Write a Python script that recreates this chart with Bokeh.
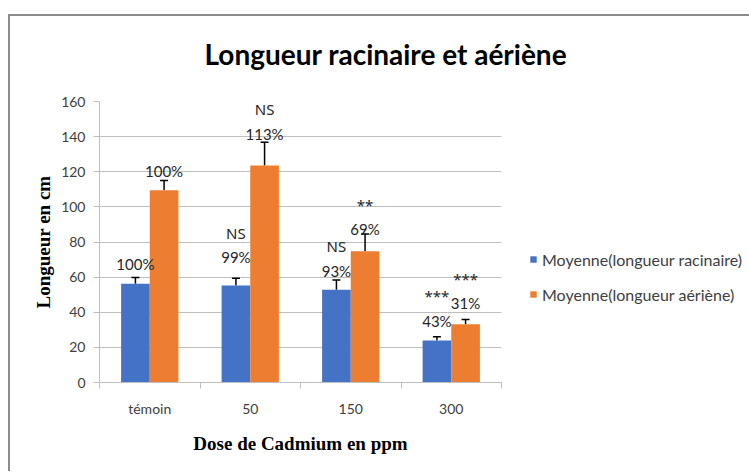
from bokeh.plotting import figure
from bokeh.models import (ColumnDataSource, Range1d, FixedTicker, Whisker, TeeHead,
                          Legend, LegendItem, Title, LinearAxis)
from bokeh.core.properties import value
from bokeh.embed import file_html
from bokeh.resources import INLINE
import numpy as np

# ---- data ----
categories = ["témoin", "50", "150", "300"]
racinaire = [56.2, 55.2, 52.8, 23.9]
racinaire_err = [3.6, 4.2, 5.5, 2.1]
aerienne = [109.5, 123.6, 74.8, 33.2]
aerienne_err = [5.5, 13.2, 9.7, 2.7]
pct_racinaire = ["100%", "99%", "93%", "43%"]
pct_aerienne = ["100%", "113%", "69%", "31%"]
sig_racinaire = ["", "NS", "NS", "***"]
sig_aerienne = ["", "NS", "**", "***"]
legend_labels = ["Moyenne(longueur racinaire)", "Moyenne(longueur aériène)"]
y_ticks = [0, 20, 40, 60, 80, 100, 120, 140, 160]

# annotation anchors (data units)
pct_racinaire_y = [67.4, 71.4, 63.4, 34.9]
sig_racinaire_y = [0, 85.1, 77.7, 49.5]
pct_aerienne_y = [120.6, 141.7, 87.4, 45.1]
sig_aerienne_y = [0, 156.0, 101.0, 59.2]

BLUE = "#4472C4"
ORANGE = "#ED7D31"
GRID = "#BFBFBF"
FONT = "Lato"

idx = np.arange(len(categories))
bw = 0.285
x_r = idx + 0.5 - bw / 2
x_a = idx + 0.5 + bw / 2

src_r = ColumnDataSource(dict(x=x_r, top=racinaire,
                              up=np.array(racinaire) + np.array(racinaire_err),
                              pct=pct_racinaire, pct_y=pct_racinaire_y,
                              sig=sig_racinaire, sig_y=sig_racinaire_y))
src_a = ColumnDataSource(dict(x=x_a, top=aerienne,
                              up=np.array(aerienne) + np.array(aerienne_err),
                              pct=pct_aerienne, pct_y=pct_aerienne_y,
                              sig=sig_aerienne, sig_y=sig_aerienne_y))

MBL, MBT = 89, 85
FRAME_W, FRAME_H = 402, 281
MBR, MBB = 249, 89
p = figure(frame_width=FRAME_W, frame_height=FRAME_H, output_backend="svg",
           toolbar_location=None,
           x_range=Range1d(0, len(categories)), y_range=Range1d(0, 160),
           min_border_left=MBL, min_border_right=MBR, min_border_top=MBT,
           min_border_bottom=MBB)
p.styles = {"transform": "translate(8px, 14px)",
            "border-left": "2px solid #8C8C8C", "border-top": "2px solid #8C8C8C"}
p.outline_line_color = None
p.background_fill_color = "white"
p.border_fill_color = "white"

# invisible spacer axis between the title and the plot area (added first = inner)
spacer = LinearAxis(ticker=FixedTicker(ticks=[0.5]), axis_line_color=None,
                    major_tick_line_color=None, minor_tick_line_color=None,
                    major_tick_out=31, major_tick_in=0, major_label_standoff=0,
                    major_label_overrides={0.5: ""}, major_label_text_font_size="1px")
p.add_layout(spacer, "above")
title = Title(text="Longueur racinaire et aériène", align="left", offset=105,
              text_font=FONT, text_font_size="28px", text_font_style="bold",
              text_color="#000000", standoff=0)
p.add_layout(title, "above")

r1 = p.vbar(x="x", top="top", width=bw, source=src_r, fill_color=BLUE, line_color=None)
r2 = p.vbar(x="x", top="top", width=bw, source=src_a, fill_color=ORANGE, line_color=None)

for src in (src_r, src_a):
    w = Whisker(base="x", lower="top", upper="up", source=src, dimension="height",
                line_color="black", line_width=1.5, lower_head=None,
                upper_head=TeeHead(size=8, line_color="black", line_width=1.5))
    p.add_layout(w)
    p.text(x="x", y="pct_y", text="pct", source=src, text_align="center",
           text_baseline="middle", text_font=value(FONT), text_font_size="15px",
           text_color="#262626")
    p.text(x="x", y="sig_y", text="sig", source=src, text_align="center",
           text_baseline="middle", text_font=value("Noto Sans"), text_font_size="15px",
           text_color="#262626")

# axes
xa = p.below[0]
xa.ticker = FixedTicker(ticks=list(idx + 0.5), minor_ticks=list(range(len(categories) + 1)))
xa.major_label_overrides = {float(i + 0.5): c for i, c in enumerate(categories)}
xa.major_tick_out = 0
xa.major_tick_in = 0
xa.minor_tick_out = 6
xa.minor_tick_in = 0
xa.minor_tick_line_color = GRID
xa.axis_line_color = GRID
xa.major_label_standoff = 11
xa.major_label_text_font = FONT
xa.major_label_text_font_size = "14px"
xa.major_label_text_color = "#404040"
xa.axis_label = "Dose de Cadmium en ppm"
xa.axis_label_text_font = "Liberation Serif"
xa.axis_label_text_font_style = "bold"
xa.axis_label_text_font_size = "19px"
xa.axis_label_text_color = "#000000"
xa.axis_label_standoff = 13

ya = p.left[0]
ya.ticker = FixedTicker(ticks=y_ticks)
ya.minor_tick_line_color = None
ya.major_tick_out = 6
ya.major_tick_in = 0
ya.major_tick_line_color = GRID
ya.axis_line_color = GRID
ya.major_label_standoff = 8
ya.major_label_text_font = FONT
ya.major_label_text_font_size = "14px"
ya.major_label_text_color = "#404040"
ya.axis_label = "Longueur en cm"
ya.axis_label_text_font = "Liberation Serif"
ya.axis_label_text_font_style = "bold"
ya.axis_label_text_font_size = "19px"
ya.axis_label_text_color = "#000000"
ya.axis_label_standoff = 4

p.xgrid.visible = False
p.ygrid.ticker = FixedTicker(ticks=y_ticks)
p.ygrid.grid_line_color = GRID
p.ygrid.grid_line_width = 1

legend = Legend(items=[LegendItem(label=legend_labels[0], renderers=[r1]),
                       LegendItem(label=legend_labels[1], renderers=[r2])],
                location=(28, 78), padding=0, margin=0, border_line_color=None,
                background_fill_alpha=0, glyph_width=8, glyph_height=8,
                label_height=20, spacing=15, label_standoff=5,
                label_text_font=FONT, label_text_font_size="16px",
                label_text_color="#404040")
p.add_layout(legend, "right")

open("out.html", "w").write(file_html(p, INLINE))
